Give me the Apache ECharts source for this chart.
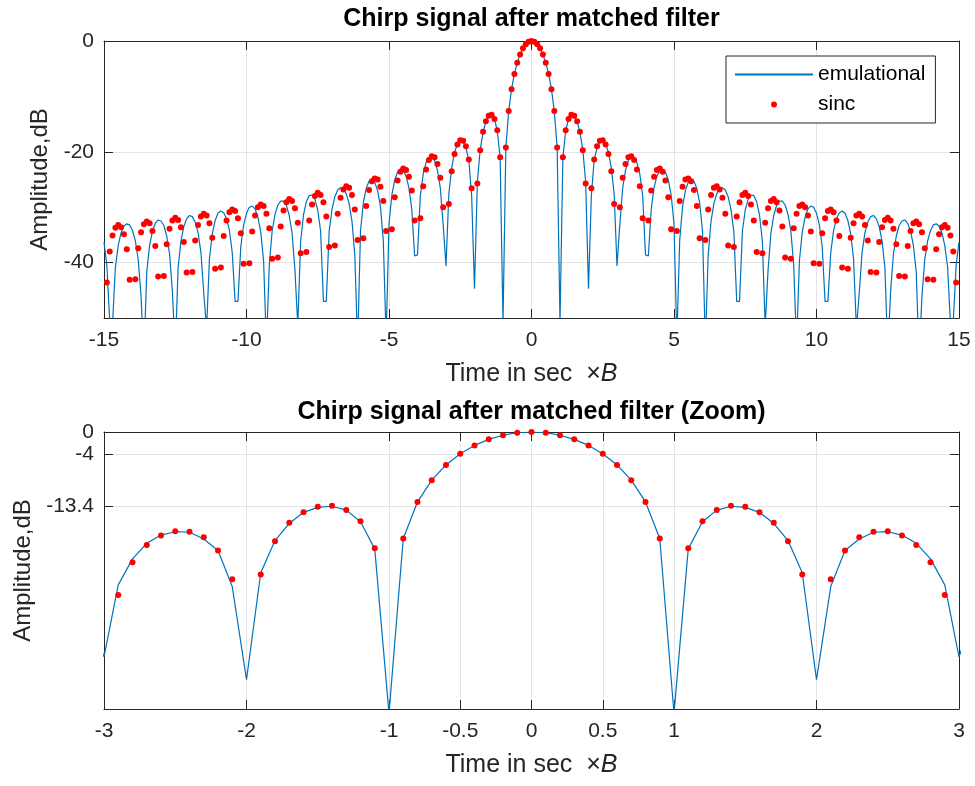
<!DOCTYPE html>
<html>
<head>
<meta charset="utf-8">
<script src="https://cdn.jsdelivr.net/npm/echarts@6.0.0/dist/echarts.min.js"></script>
<style>
  html, body { margin: 0; padding: 0; background: #ffffff; }
  #chart { width: 975px; height: 786px; }
</style>
</head>
<body>
<div id="chart"></div>
<script>
// Sampling grid: time x bandwidth from -15 to 15, step 0.1
const T_START = -15;
const T_STEP = 0.1;
const T_COUNT = 301;

// Simulated matched-filter output (dB), one value per grid sample
const emulational = [
  -36.3,-40.5,-50.5,-51.0,-40.8,-36.9,-34.6,-33.4,-33.0,-33.2,
  -34.2,-36.1,-39.4,-46.1,-57.3,-41.7,-36.9,-34.3,-32.9,-32.3,
  -32.5,-33.3,-35.2,-38.4,-45.2,-56.3,-40.9,-36.1,-33.5,-32.1,
  -31.5,-31.7,-32.7,-34.6,-38.1,-45.5,-51.9,-39.3,-34.8,-32.4,
  -31.1,-30.7,-31.0,-32.1,-34.2,-38.2,-47.0,-47.0,-37.1,-33.2,
  -31.1,-30.0,-29.8,-30.3,-31.8,-34.5,-39.7,-55.0,-40.4,-34.3,
  -31.3,-29.6,-28.9,-28.9,-29.7,-31.5,-34.7,-41.4,-51.4,-36.1,
  -31.4,-29.0,-27.9,-27.8,-28.6,-30.5,-34.3,-47.0,-47.0,-34.4,
  -30.4,-28.1,-26.9,-26.5,-26.7,-27.6,-29.3,-32.5,-38.6,-55.0,
  -34.3,-29.2,-26.6,-25.3,-24.9,-25.5,-27.0,-29.9,-36.0,-53.7,
  -33.0,-27.8,-25.1,-23.7,-23.1,-23.4,-24.4,-26.5,-30.4,-38.8,
  -38.6,-27.9,-24.0,-22.0,-21.0,-20.9,-21.6,-23.3,-26.5,-33.1,
  -40.6,-27.6,-22.9,-20.1,-18.6,-18.0,-18.1,-19.3,-21.4,-27.9,
  -44.7,-25.4,-19.6,-16.5,-14.5,-13.6,-13.4,-14.1,-16.2,-21.1,
  -50.8,-19.23,-12.62,-8.69,-5.94,-3.92,-2.42,-1.33,-0.58,-0.14,
  0,
  -0.14,-0.58,-1.33,-2.42,-3.92,-5.94,-8.69,-12.62,-19.23,-50.8,
  -21.1,-16.2,-14.1,-13.4,-13.6,-14.5,-16.5,-19.6,-25.4,-44.7,
  -27.9,-21.4,-19.3,-18.1,-18.0,-18.6,-20.1,-22.9,-27.6,-40.6,
  -33.1,-26.5,-23.3,-21.6,-20.9,-21.0,-22.0,-24.0,-27.9,-38.6,
  -38.8,-30.4,-26.5,-24.4,-23.4,-23.1,-23.7,-25.1,-27.8,-33.0,
  -53.7,-36.0,-29.9,-27.0,-25.5,-24.9,-25.3,-26.6,-29.2,-34.3,
  -55.0,-38.6,-32.5,-29.3,-27.6,-26.7,-26.5,-26.9,-28.1,-30.4,
  -34.4,-47.0,-47.0,-34.3,-30.5,-28.6,-27.8,-27.9,-29.0,-31.4,
  -36.1,-51.4,-41.4,-34.7,-31.5,-29.7,-28.9,-28.9,-29.6,-31.3,
  -34.3,-40.4,-55.0,-39.7,-34.5,-31.8,-30.3,-29.8,-30.0,-31.1,
  -33.2,-37.1,-47.0,-47.0,-38.2,-34.2,-32.1,-31.0,-30.7,-31.1,
  -32.4,-34.8,-39.3,-51.9,-45.5,-38.1,-34.6,-32.7,-31.7,-31.5,
  -32.1,-33.5,-36.1,-40.9,-56.3,-45.2,-38.4,-35.2,-33.3,-32.5,
  -32.3,-32.9,-34.3,-36.9,-41.7,-57.3,-46.1,-39.4,-36.1,-34.2,
  -33.2,-33.0,-33.4,-34.6,-36.9,-40.8,-51.0,-50.5,-40.5,-36.3
];

// Ideal sinc response (dB); null where the response vanishes
const sincDots = [
  null,-43.6,-38.0,-35.1,-33.7,-33.2,-33.6,-34.9,-37.6,-43.1,
  null,-43.0,-37.4,-34.5,-33.1,-32.6,-32.9,-34.3,-37.0,-42.5,
  null,-42.4,-36.7,-33.9,-32.4,-31.9,-32.3,-33.6,-36.3,-41.8,
  null,-41.7,-36.0,-33.2,-31.7,-31.2,-31.5,-32.9,-35.5,-41.1,
  null,-40.9,-35.2,-32.4,-30.9,-30.4,-30.7,-32.0,-34.7,-40.2,
  null,-40.1,-34.4,-31.5,-30.0,-29.5,-29.8,-31.2,-33.8,-39.3,
  null,-39.1,-33.5,-30.6,-29.1,-28.5,-28.9,-30.2,-32.8,-38.3,
  null,-38.1,-32.4,-29.5,-28.0,-27.4,-27.8,-29.1,-31.7,-37.2,
  null,-36.9,-31.2,-28.3,-26.8,-26.2,-26.5,-27.8,-30.4,-35.9,
  null,-35.6,-29.8,-26.9,-25.3,-24.8,-25.0,-26.3,-28.9,-34.3,
  null,-34.0,-28.2,-25.2,-23.6,-23.0,-23.3,-24.5,-27.0,-32.4,
  null,-32.0,-26.2,-23.2,-21.5,-20.8,-21.0,-22.2,-24.7,-30.0,
  null,-29.4,-23.5,-20.4,-18.7,-17.9,-18.0,-19.0,-21.4,-26.6,
  null,-25.7,-19.7,-16.4,-14.5,-13.5,-13.3,-14.1,-16.1,-21.0,
  null,-19.23,-12.62,-8.69,-5.94,-3.92,-2.42,-1.33,-0.58,-0.14,
  0,
  -0.14,-0.58,-1.33,-2.42,-3.92,-5.94,-8.69,-12.62,-19.23,null,
  -21.0,-16.1,-14.1,-13.3,-13.5,-14.5,-16.4,-19.7,-25.7,null,
  -26.6,-21.4,-19.0,-18.0,-17.9,-18.7,-20.4,-23.5,-29.4,null,
  -30.0,-24.7,-22.2,-21.0,-20.8,-21.5,-23.2,-26.2,-32.0,null,
  -32.4,-27.0,-24.5,-23.3,-23.0,-23.6,-25.2,-28.2,-34.0,null,
  -34.3,-28.9,-26.3,-25.0,-24.8,-25.3,-26.9,-29.8,-35.6,null,
  -35.9,-30.4,-27.8,-26.5,-26.2,-26.8,-28.3,-31.2,-36.9,null,
  -37.2,-31.7,-29.1,-27.8,-27.4,-28.0,-29.5,-32.4,-38.1,null,
  -38.3,-32.8,-30.2,-28.9,-28.5,-29.1,-30.6,-33.5,-39.1,null,
  -39.3,-33.8,-31.2,-29.8,-29.5,-30.0,-31.5,-34.4,-40.1,null,
  -40.2,-34.7,-32.0,-30.7,-30.4,-30.9,-32.4,-35.2,-40.9,null,
  -41.1,-35.5,-32.9,-31.5,-31.2,-31.7,-33.2,-36.0,-41.7,null,
  -41.8,-36.3,-33.6,-32.3,-31.9,-32.4,-33.9,-36.7,-42.4,null,
  -42.5,-37.0,-34.3,-32.9,-32.6,-33.1,-34.5,-37.4,-43.0,null,
  -43.1,-37.6,-34.9,-33.6,-33.2,-33.7,-35.1,-38.0,-43.6,null
];

// Tick positions
const fullXTicks = [-15, -10, -5, 0, 5, 10, 15];
const fullYTicks = [-40, -20, 0];
const zoomXTicks = [-3, -2, -1, -0.5, 0, 0.5, 1, 2, 3];
const zoomYTicks = [-13.4, -4, 0];

const TITLE_FULL = 'Chirp signal after matched filter';
const TITLE_ZOOM = 'Chirp signal after matched filter (Zoom)';

// ---- build point lists ----
const time = [];
for (let i = 0; i < T_COUNT; i++) time.push(Math.round((T_START + i * T_STEP) * 10) / 10);
const linePts = time.map((t, i) => [t, emulational[i]]);
const dotPts = time.map((t, i) => [t, sincDots[i]]).filter(p => p[1] !== null);

// ---- styling ----
const FONT = '"Liberation Sans", Arial, Helvetica, sans-serif';
const AXIS_C = '#262626';
const GRID_C = '#e4e4e4';
const BLUE = '#0072BD';
const RED = '#ff0000';
const TICK_FS = 21;
const NAME_FS = 25;
const TITLE_FONT = 'bold 25px ' + FONT;

const GRIDS = [
  { left: 104, top: 41, width: 855, height: 277 },
  { left: 104, top: 432, width: 855, height: 277 }
];

function tickStyle(values) {
  return { show: true, inside: true, length: 9, customValues: values, lineStyle: { color: AXIS_C, width: 1 } };
}
function lineStyleAxis() {
  return { show: true, onZero: false, lineStyle: { color: AXIS_C, width: 1 } };
}

function xPair(gridIndex, min, max, ticks) {
  return [
    {
      type: 'value', gridIndex, min, max, position: 'bottom',
      axisLine: lineStyleAxis(),
      axisTick: tickStyle(ticks),
      axisLabel: { customValues: ticks, color: AXIS_C, fontSize: TICK_FS, fontFamily: FONT, margin: 12, hideOverlap: false },
      splitLine: { show: true, lineStyle: { color: GRID_C, width: 1 } },
      name: 'Time in sec  \u00d7{it|B}', nameLocation: 'middle', nameGap: 44,
      nameTextStyle: {
        color: AXIS_C, fontSize: NAME_FS, fontFamily: FONT,
        rich: { it: { fontStyle: 'italic', fontSize: NAME_FS, fontFamily: FONT, color: AXIS_C } }
      }
    },
    {
      type: 'value', gridIndex, min, max, position: 'top',
      axisLine: lineStyleAxis(),
      axisTick: tickStyle(ticks),
      axisLabel: { show: false },
      splitLine: { show: false }
    }
  ];
}

function yPair(gridIndex, min, max, ticks) {
  return [
    {
      type: 'value', gridIndex, min, max, position: 'left',
      axisLine: lineStyleAxis(),
      axisTick: tickStyle(ticks),
      axisLabel: { customValues: ticks, color: AXIS_C, fontSize: TICK_FS, fontFamily: FONT, margin: 10, hideOverlap: false },
      splitLine: { show: true, lineStyle: { color: GRID_C, width: 1 } },
      name: 'Amplitude,dB', nameLocation: 'middle', nameGap: 51,
      nameTextStyle: { color: AXIS_C, fontSize: NAME_FS - 1, fontFamily: FONT }
    },
    {
      type: 'value', gridIndex, min, max, position: 'right',
      axisLine: lineStyleAxis(),
      axisTick: tickStyle(ticks),
      axisLabel: { show: false },
      splitLine: { show: false }
    }
  ];
}

function lineSeries(axisIndex) {
  return {
    name: 'emulational', type: 'line', xAxisIndex: axisIndex, yAxisIndex: axisIndex,
    data: linePts, symbol: 'none', showSymbol: false, clip: true, z: 2,
    lineStyle: { color: BLUE, width: 1.2 }, itemStyle: { color: BLUE }
  };
}
function dotSeries(axisIndex) {
  return {
    name: 'sinc', type: 'scatter', xAxisIndex: axisIndex, yAxisIndex: axisIndex,
    data: dotPts, symbol: 'circle', symbolSize: 6, clip: true, z: 3,
    itemStyle: { color: RED, opacity: 1 }
  };
}

const chart = echarts.init(document.getElementById('chart'), null, { renderer: 'canvas' });
chart.setOption({
  animation: false,
  backgroundColor: '#ffffff',
  grid: GRIDS,
  xAxis: [...xPair(0, -15, 15, fullXTicks), ...xPair(1, -3, 3, zoomXTicks)],
  yAxis: [...yPair(0, -50, 0, fullYTicks), ...yPair(1, -50, 0, zoomYTicks)],
  legend: {
    data: [
      { name: 'emulational', itemStyle: { opacity: 0 } },
      { name: 'sinc' }
    ],
    orient: 'vertical', left: 726, top: 56,
    itemWidth: 78, itemHeight: 6, itemGap: 9,
    padding: [8, 10, 8, 8],
    borderColor: AXIS_C, borderWidth: 1, backgroundColor: '#ffffff',
    selectedMode: false,
    textStyle: { color: '#000000', fontSize: 21, fontFamily: FONT, lineHeight: 21 }
  },
  graphic: [
    { type: 'text', x: 531.5, y: 19, style: { text: TITLE_FULL, fill: '#000000', font: TITLE_FONT, textAlign: 'center', textVerticalAlign: 'middle' } },
    { type: 'text', x: 531.5, y: 412, style: { text: TITLE_ZOOM, fill: '#000000', font: TITLE_FONT, textAlign: 'center', textVerticalAlign: 'middle' } }
  ],
  series: [lineSeries(0), dotSeries(0), lineSeries(2), dotSeries(2)]
});
</script>
</body>
</html>
